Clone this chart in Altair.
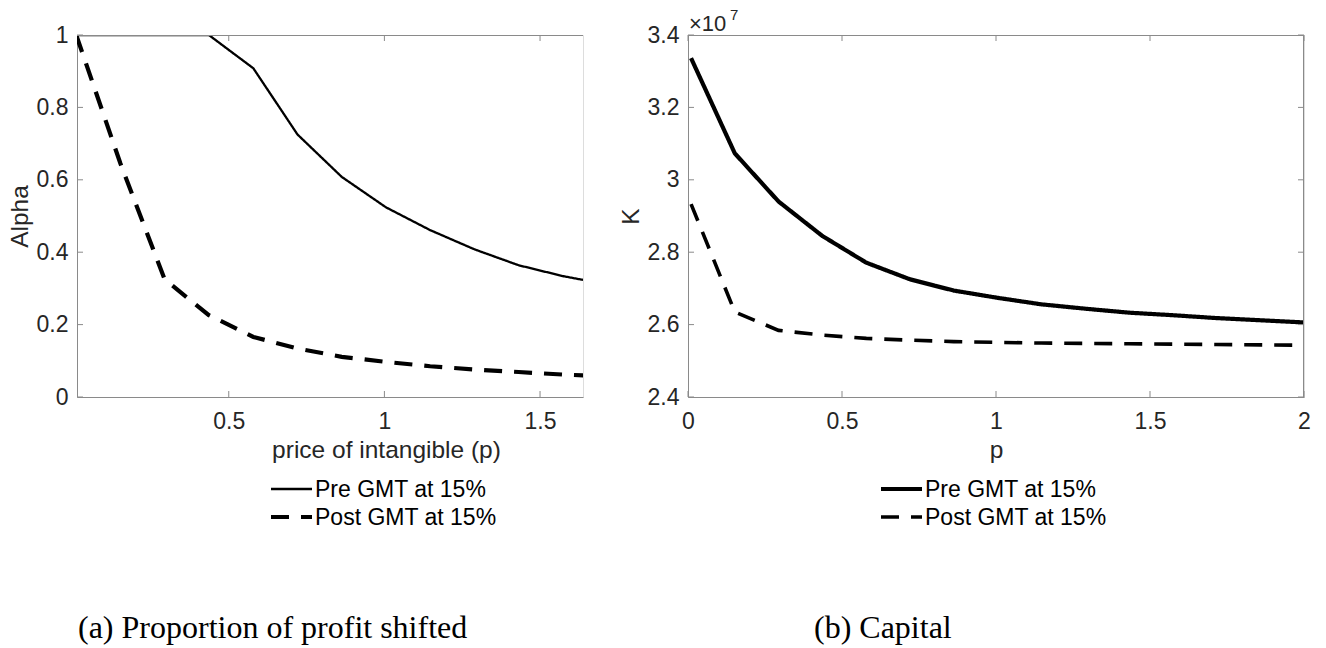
import altair as alt
import pandas as pd

# ---- data ----
p_vals = [0.01, 0.152, 0.294, 0.436, 0.579, 0.721, 0.863, 1.005, 1.147, 1.289, 1.431, 1.573, 1.716, 1.858, 2.0]
alpha_pre = [1.0, 1.0, 1.0, 1.0, 0.908, 0.725, 0.608, 0.524, 0.461, 0.408, 0.364, 0.334, 0.311]
alpha_post = [1.0, 0.645, 0.325, 0.226, 0.166, 0.134, 0.111, 0.097, 0.085, 0.076, 0.069, 0.062, 0.057]
k_pre = [33360000, 30730000, 29400000, 28450000, 27710000, 27250000, 26940000, 26740000,
         26560000, 26440000, 26330000, 26260000, 26180000, 26120000, 26060000]
k_post = [29330000, 26350000, 25840000, 25710000, 25620000, 25570000, 25530000, 25510000,
          25490000, 25480000, 25470000, 25460000, 25450000, 25440000, 25430000]
series = ["Pre GMT at 15%", "Post GMT at 15%"]
left_x_ticks = [0.5, 1, 1.5]
left_y_ticks = [0, 0.2, 0.4, 0.6, 0.8, 1]
right_x_ticks = [0, 0.5, 1, 1.5, 2]
right_y_ticks = [24000000, 26000000, 28000000, 30000000, 32000000, 34000000]
captions = ["(a) Proportion of profit shifted", "(b) Capital"]

# ---- style ----
FONT = "Liberation Sans"
SERIF = "Liberation Serif"
FS = 23
TFS = 24.5
AX = "#8a8a8a"
TXT = "#262626"
H = 362
WL = 506
WR = 616
TICK = 6

left_df = pd.DataFrame({
    "p": p_vals[:len(alpha_pre)] * 2,
    "v": alpha_pre + alpha_post,
    "series": [series[0]] * len(alpha_pre) + [series[1]] * len(alpha_post),
})
right_df = pd.DataFrame({
    "p": p_vals * 2,
    "v": k_pre + k_post,
    "series": [series[0]] * len(k_pre) + [series[1]] * len(k_post),
})

dash_scale = alt.Scale(domain=series, range=[[1, 0], [18, 12]])


def axis_common(**kw):
    base = dict(grid=False, tickSize=0, labelFont=FONT, labelFontSize=FS, labelColor=TXT,
                labelFlush=False, labelOverlap=False, labelBound=False,
                domainColor=AX, domainWidth=1, titleFont=FONT, titleFontSize=TFS,
                titleFontWeight="normal", titleColor=TXT)
    base.update(kw)
    return alt.Axis(**base)


def panel(df, xdomain, ydomain, xticks, yticks, xtitle, ytitle, ylabel_expr, W, widths,
          leg_x, caption, cap_x, right_box, exp_label):
    xs = alt.Scale(domain=xdomain, nice=False, zero=False)
    ys = alt.Scale(domain=ydomain, nice=False, zero=False)
    width_scale = alt.Scale(domain=series, range=widths)
    xax = axis_common(values=xticks, labelExpr="format(datum.value, '~g')", labelPadding=13,
                      title=xtitle, titleX=W / 2 if right_box else 309, titleY=60,
                      titleBaseline="alphabetic", titleAlign="center")
    yax = axis_common(values=yticks, labelExpr=ylabel_expr, labelPadding=9,
                      title=ytitle, titleX=-57, titleY=H / 2, titleAngle=270,
                      titleAlign="center", titleBaseline="middle")
    X = lambda: alt.X("p:Q", scale=xs, axis=xax, title=xtitle)
    Y = lambda: alt.Y("v:Q", scale=ys, axis=yax, title=ytitle)

    lines = alt.Chart(df).mark_line(clip=True, color="black", strokeCap="butt").encode(
        x=X(), y=Y(),
        strokeDash=alt.StrokeDash("series:N", scale=dash_scale, legend=None),
        strokeWidth=alt.StrokeWidth("series:N", scale=width_scale, legend=None),
        detail="series:N",
    )

    xt = pd.DataFrame({"p": xticks})
    yt = pd.DataFrame({"v": yticks})
    layers = [lines]
    layers.append(alt.Chart(xt).mark_rule(color=AX).encode(
        x=X(), y=alt.value(H), y2=alt.value(H - TICK)))
    layers.append(alt.Chart(xt).mark_rule(color=AX).encode(
        x=X(), y=alt.value(0), y2=alt.value(TICK)))
    layers.append(alt.Chart(yt).mark_rule(color=AX).encode(
        y=Y(), x=alt.value(0), x2=alt.value(TICK)))
    # top spine
    layers.append(alt.Chart(xt).mark_rule(color=AX).encode(
        x=alt.value(0), x2=alt.value(W), y=alt.value(0.5)))
    if right_box:
        layers.append(alt.Chart(yt).mark_rule(color=AX).encode(
            y=Y(), x=alt.value(W - TICK), x2=alt.value(W)))
        layers.append(alt.Chart(xt).mark_rule(color=AX).encode(
            x=alt.value(W - 0.5), y=alt.value(0), y2=alt.value(H)))

    # legend
    for i, s in enumerate(series):
        sd = pd.DataFrame({"series": [s]})
        yy = 454 + 28 * i
        layers.append(alt.Chart(sd).mark_rule(color="black", strokeCap="butt").encode(
            x=alt.value(leg_x), x2=alt.value(leg_x + 41), y=alt.value(yy),
            strokeDash=alt.StrokeDash("series:N", scale=dash_scale, legend=None),
            strokeWidth=alt.StrokeWidth("series:N", scale=width_scale, legend=None)))
        layers.append(alt.Chart(sd).mark_text(
            align="left", baseline="middle", font=FONT, fontSize=FS, color="black").encode(
            x=alt.value(leg_x + 44), y=alt.value(yy + 1), text="series:N"))

    # caption
    cd = pd.DataFrame({"t": [caption]})
    layers.append(alt.Chart(cd).mark_text(
        align="left", baseline="alphabetic", font=SERIF, fontSize=32, color="black").encode(
        x=alt.value(cap_x), y=alt.value(603), text="t:N"))

    if exp_label:
        ed = pd.DataFrame({"a": ["\u00d710"], "b": ["7"]})
        layers.append(alt.Chart(ed).mark_text(
            align="left", baseline="alphabetic", font=FONT, fontSize=22, color=TXT).encode(
            x=alt.value(1), y=alt.value(-4), text="a:N"))
        layers.append(alt.Chart(ed).mark_text(
            align="left", baseline="alphabetic", font=FONT, fontSize=15, color=TXT).encode(
            x=alt.value(42), y=alt.value(-15), text="b:N"))

    return alt.layer(*layers).properties(width=W, height=H)


left = panel(left_df, [0.0125, 1.638], [0, 1], left_x_ticks, left_y_ticks,
             "price of intangible (p)", "Alpha", "format(datum.value, '~g')", WL,
             [2.3, 4.2], 194, captions[0], 1, False, False)
right = panel(right_df, [0, 2], [24000000, 34000000], right_x_ticks, right_y_ticks,
              "p", "K", "format(datum.value / 10000000, '~g')", WR,
              [4.2, 3.6], 193, captions[1], 126, True, True)

chart = alt.hconcat(left, right, spacing=105, bounds="flush").resolve_scale(
    x="independent", y="independent", strokeDash="independent", strokeWidth="independent"
).properties(
    padding={"left": 6, "top": 7, "right": 0, "bottom": 0}
).configure_view(stroke=None).configure(background="white")

chart.save("out.html", embed_options={"renderer": "svg", "actions": False})
